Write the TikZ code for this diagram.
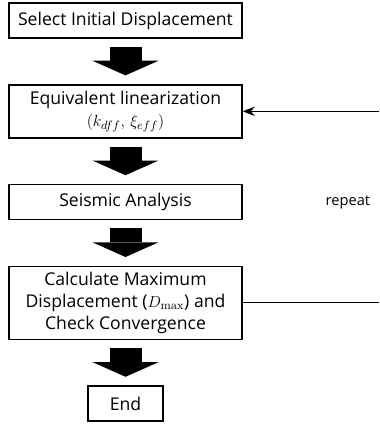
\documentclass[tikz,border=0pt]{standalone}
\usepackage{amsmath}
\usepackage[no-math]{fontspec}
\setmainfont{Open Sans}
\usepackage{tikz}
\usetikzlibrary{arrows.meta, positioning, calc}

\begin{document}
\begin{tikzpicture}[x=0.75pt, y=-0.75pt, node distance=34pt, >=Stealth]
    \tikzstyle{stepbox} = [rectangle, draw=black, line width=1.1pt, align=center, minimum width=174.75pt, minimum height=26.25pt, inner sep=2pt, font=\fontsize{13.2}{16.5}\selectfont]
    \tikzstyle{endbox} = [stepbox, minimum width=56.25pt]
    \tikzstyle{blockarrow} = [line width=24pt, shorten <=6pt, shorten >=6.5pt, -{Triangle[width=49.5pt, length=11pt, line width=0pt]}]
    \tikzstyle{loopline} = [line width=0.8pt]

    \useasboundingbox (0,0) rectangle (379,424);

    \node (sel)  [stepbox] at (125.5,20.5)        {Select Initial Displacement};
    \node (lin)  [stepbox, minimum height=39.75pt, below=of sel]  {Equivalent linearization\\$(k_{dff},\,\xi_{eff})$};
    \node (seis) [stepbox, below=of lin]          {Seismic Analysis};
    \node (calc) [stepbox, minimum height=54.75pt, below=of seis] {Calculate Maximum\\Displacement ($D_{\mathrm{max}}$) and\\Check Convergence};
    \node (fin)  [endbox, below=of calc]          {End};
    \node (rep)  [right=62pt of seis, inner sep=0pt, font=\fontsize{11}{13}\selectfont] {repeat};

    \coordinate (loopin)  at (lin.east -| 379,0);
    \coordinate (loopout) at (calc.east -| 379,0);

    \draw [blockarrow] (sel) -- (lin);
    \draw [blockarrow] (lin) -- (seis);
    \draw [blockarrow] (seis) -- (calc);
    \draw [blockarrow] (calc) -- (fin);
    % loop-back lines
    \draw [loopline, -{Stealth[length=9pt, width=7pt]}] (loopin) -- (lin.east);
    \draw [loopline] (calc.east) -- (loopout);
\end{tikzpicture}
\end{document}
